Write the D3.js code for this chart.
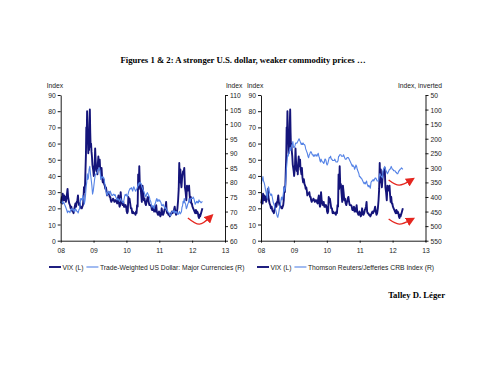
<!DOCTYPE html>
<html>
<head>
<meta charset="utf-8">
<script src="https://cdn.jsdelivr.net/npm/d3@7"></script>
<style>
  html, body { margin: 0; padding: 0; background: #fff; }
  svg { display: block; }
  .tick-label, .axis-title, .legend-text { font-family: "Liberation Sans", Arial, sans-serif; font-size: 8px; fill: #222; }
  .heading { font-family: "Liberation Serif", "Times New Roman", serif; font-weight: bold; font-size: 8.7px; fill: #000; }
</style>
</head>
<body>
<script>
// monthly buckets, Jan 2008 .. Apr 2012, values read roughly weekly off the picture
var vix = [
  [23, 25, 27, 23, 29, 25], [26, 28, 25, 27, 24], [26, 29, 32, 27, 25], [23, 22, 20, 21],
  [19, 18, 18, 17, 19], [21, 23, 21, 24], [25, 28, 24, 22, 23], [21, 21, 20, 20, 21],
  [22, 25, 33, 30, 35], [45, 53, 70, 64, 80, 68, 62], [54, 61, 56, 72, 81, 67, 58], [60, 55, 52, 47, 45, 43],
  [40, 43, 47, 57, 50, 45], [43, 46, 41, 48, 52, 46], [49, 50, 44, 43, 41, 45], [39, 36, 38, 35],
  [34, 32, 33, 31, 28], [29, 29, 30, 27], [27, 25, 24, 25, 25], [26, 25, 24, 25],
  [25, 24, 23, 26], [28, 23, 21, 22, 30], [25, 23, 22, 24], [21, 22, 21, 22, 21],
  [18, 17, 18, 27, 24], [26, 23, 20, 20], [17, 18, 17, 17], [17, 16, 18, 17, 22],
  [21, 41, 32, 46, 34], [35, 29, 24, 34], [30, 25, 26, 23], [22, 24, 26, 27],
  [24, 22, 22, 22], [21, 19, 19, 19, 21], [18, 20, 18, 22], [18, 17, 16, 16, 18],
  [17, 15, 16, 20], [17, 16, 17, 19], [20, 21, 24, 18, 17], [17, 16, 16, 15],
  [16, 17, 18, 17], [18, 19, 21, 18], [16, 17, 20, 25], [32, 48, 36, 44, 36],
  [33, 38, 41, 43, 42], [45, 33, 30, 25], [34, 31, 32, 34], [28, 24, 27, 23, 23],
  [21, 20, 19, 18], [17, 19, 17, 18], [17, 15, 14, 16, 15], [17, 20]
];

var dollar = [
  [73.5, 73.0, 73.6, 73.0, 72.8], [73.2, 72.5, 72.0, 71.4], [70.8, 70.2, 69.6, 70.2, 70.0], [70.1, 69.6, 70.5, 71.0],
  [70.6, 70.9, 70.5, 70.2, 70.8], [70.0, 71.0, 70.6, 70.1], [70.0, 69.5, 70.5, 71.0], [72.5, 74.5, 74.0, 74.5, 74.0],
  [75.6, 74.5, 72.5, 73.8], [76.0, 78.5, 80.0, 83.0, 81.0], [81.5, 84.5, 85.5, 83.0], [81.0, 79.0, 76.0, 77.0],
  [79.0, 81.0, 82.5, 83.0], [83.0, 83.5, 84.5, 84.5], [85.0, 84.0, 81.0, 81.5], [82.0, 81.5, 81.8, 81.0],
  [79.5, 78.5, 77.0, 76.5, 75.5], [76.0, 77.0, 76.5, 76.0], [77.0, 76.5, 76.0, 75.5, 75.5], [75.8, 76.0, 75.5, 75.8],
  [75.0, 74.5, 74.0, 74.5], [74.2, 73.8, 73.5, 74.2, 74.5], [73.8, 73.5, 73.2, 73.0], [74.0, 75.0, 75.8, 75.5, 76.0],
  [75.5, 75.0, 76.0, 77.0], [77.5, 78.0, 77.8, 78.2], [77.5, 77.0, 78.0, 78.5, 78.0], [77.5, 77.0, 77.5, 78.0],
  [78.5, 79.5, 79.0, 80.0, 79.5], [80.0, 79.5, 78.5, 78.0], [77.5, 77.0, 76.5, 76.0, 75.5], [75.0, 76.0, 76.5, 76.0],
  [75.5, 75.0, 74.0, 73.5], [72.5, 71.5, 72.0, 72.0, 71.5], [71.0, 72.5, 73.0, 74.0], [74.5, 73.5, 74.0, 74.0, 73.5],
  [74.0, 73.5, 73.0, 72.0], [72.0, 72.5, 72.0, 71.5], [71.0, 71.5, 71.0, 70.5, 70.5], [70.0, 69.8, 69.5, 68.8],
  [68.5, 69.5, 70.0, 70.0], [69.8, 70.5, 69.5, 70.0], [69.5, 70.0, 69.2, 69.0], [69.5, 70.0, 69.2, 69.5],
  [70.0, 71.5, 72.0, 73.5, 73.0], [74.5, 73.0, 72.5, 71.0], [71.5, 72.5, 73.0, 74.5], [73.5, 73.5, 74.5, 74.5, 74.5],
  [74.5, 75.0, 74.5, 73.5], [72.5, 73.0, 73.5, 73.0], [73.5, 73.0, 74.0, 73.5, 73.5], [73.0, 73.5]
];

var crb = [
  [355, 345, 340, 330, 345], [350, 360, 375, 385], [395, 405, 375, 365, 370], [385, 390, 395, 390],
  [400, 410, 420, 425, 430], [440, 445, 455, 465], [470, 460, 445, 430], [425, 410, 400, 410, 405],
  [390, 365, 380, 370], [330, 300, 280, 255, 260], [250, 240, 230, 240], [225, 220, 210, 230],
  [230, 225, 215, 215], [215, 210, 205, 200], [205, 210, 215, 220, 215], [220, 215, 220, 220],
  [225, 235, 240, 245, 250], [260, 265, 255, 250], [245, 245, 250, 255, 255], [260, 255, 260, 255],
  [255, 260, 255, 250], [260, 265, 275, 280, 270], [275, 280, 280, 285], [280, 270, 270, 275, 285],
  [290, 285, 275, 265], [265, 260, 270, 270], [275, 275, 275, 275, 270], [275, 280, 280, 280],
  [275, 260, 260, 255, 255], [255, 260, 260, 260], [255, 260, 265, 270, 270], [270, 265, 265, 265],
  [270, 275, 280, 285], [290, 295, 290, 295, 295], [305, 300, 290, 295], [305, 310, 315, 320, 330],
  [330, 335, 335, 340], [345, 350, 355, 350], [355, 350, 345, 355, 360], [365, 360, 365, 370],
  [350, 345, 345, 340], [345, 340, 335, 335], [340, 345, 345, 345], [330, 320, 325, 330],
  [330, 335, 310, 305, 300], [295, 305, 310, 315], [320, 315, 310, 305], [305, 300, 295, 300, 305],
  [305, 310, 310, 310], [315, 315, 320, 320], [315, 310, 310, 305, 305], [300, 305]
];

var yearTicks = [2008, 2009, 2010, 2011, 2012, 2013];
var leftTicks = [0, 10, 20, 30, 40, 50, 60, 70, 80, 90];
var dollarTicks = [60, 65, 70, 75, 80, 85, 90, 95, 100, 105, 110];
var crbTicks = [50, 100, 150, 200, 250, 300, 350, 400, 450, 500, 550];

// red "turning up" arrows, in (year, VIX) units
var arrowsLeft = [ [[2011.87, 14], [2012.22, 10.2], [2012.55, 14.6]] ];
var arrowsRight = [
  [[2011.88, 37.5], [2012.2, 34.3], [2012.56, 37.4]],
  [[2011.88, 13.4], [2012.2, 10.3], [2012.56, 12.9]]
];

var titleText = 'Figures 1 & 2: A stronger U.S. dollar, weaker commodity prices \u2026';
var sourceText = 'Talley D. L\u00e9ger';

var DARK = '#14147a', LIGHT = '#5583e6', RED = '#e5261f';
var NARROW = 0.84;  // the source uses a condensed sans

function flatten(monthly) {
  var pts = [];
  monthly.forEach(function(vals, m) {
    vals.forEach(function(v, j) {
      pts.push({ t: 2008 + (m + (j + 0.5) / vals.length) / 12, v: v });
    });
  });
  return pts;
}

function condense(node) {
  var w = node.getComputedTextLength() * NARROW;
  d3.select(node).attr('textLength', w).attr('lengthAdjust', 'spacingAndGlyphs');
  return w;
}

var svg = d3.select('body').append('svg').attr('width', 490).attr('height', 378);
svg.append('rect').attr('width', 490).attr('height', 378).attr('fill', '#fff');

svg.append('text').attr('class', 'heading')
   .attr('x', 243).attr('y', 63).attr('text-anchor', 'middle').text(titleText);
svg.append('text').attr('class', 'heading')
   .attr('x', 445).attr('y', 298).attr('text-anchor', 'end').text(sourceText);

svg.append('defs').append('marker')
   .attr('id', 'redhead').attr('viewBox', '0 0 10 10')
   .attr('refX', 5).attr('refY', 5)
   .attr('markerWidth', 7).attr('markerHeight', 7)
   .attr('orient', 'auto')
   .append('path').attr('d', 'M0,0 L10,5 L0,10 z').attr('fill', RED);

function drawPanel(cfg) {
  var g = svg.append('g');
  var x = d3.scaleLinear().domain([2008, 2013]).range([cfg.x0, cfg.x1]);
  var yL = d3.scaleLinear().domain([0, 90]).range([240.7, 95]);
  var yR = d3.scaleLinear().domain(cfg.rightDomain).range([240.7, 95]);

  // series
  var lineL = d3.line().x(function(d) { return x(d.t); }).y(function(d) { return yL(d.v); });
  var lineR = d3.line().x(function(d) { return x(d.t); }).y(function(d) { return yR(d.v); });
  g.append('path').datum(flatten(vix)).attr('d', lineL)
   .attr('fill', 'none').attr('stroke', DARK).attr('stroke-width', 1.9).attr('stroke-linejoin', 'round');
  g.append('path').datum(flatten(cfg.rightData)).attr('d', lineR)
   .attr('fill', 'none').attr('stroke', LIGHT).attr('stroke-width', 1.1).attr('stroke-linejoin', 'round');

  // axes
  var axL = d3.axisLeft(yL).tickValues(leftTicks).tickSize(3).tickPadding(2);
  var axR = d3.axisRight(yR).tickValues(cfg.rightTicks).tickSize(3).tickPadding(2);
  var axB = d3.axisBottom(x).tickValues(yearTicks).tickSize(2).tickPadding(5)
              .tickFormat(function(d) { return d3.format('02d')(d % 100); });
  [ g.append('g').attr('transform', 'translate(' + cfg.x0 + ',0)').call(axL),
    g.append('g').attr('transform', 'translate(' + cfg.x1 + ',0)').call(axR),
    g.append('g').attr('transform', 'translate(0,240.7)').call(axB) ].forEach(function(a) {
      a.attr('font-size', null).attr('font-family', null);
      a.selectAll('path, line').attr('stroke', '#000').attr('stroke-width', 0.9);
      a.selectAll('text').attr('class', 'tick-label').attr('fill', null);
  });
  g.selectAll('.domain').each(function() {
    // plain axis line, no end caps
    var el = d3.select(this), d = el.attr('d');
    el.attr('d', d.replace(/M([\-\d.]+),([\-\d.]+)H([\-\d.]+)V([\-\d.]+)H([\-\d.]+)/, 'M$3,$2V$4')
                  .replace(/M([\-\d.]+),([\-\d.]+)V([\-\d.]+)H([\-\d.]+)V([\-\d.]+)/, 'M$1,$3H$4'));
  });

  g.append('text').attr('class', 'axis-title').attr('x', cfg.x0 - 14).attr('y', 88).text('Index');
  g.append('text').attr('class', 'axis-title').attr('x', cfg.rightTitleX).attr('y', 88)
   .attr('text-anchor', cfg.rightTitleAnchor).text(cfg.rightTitle);

  // arrows
  var curve = d3.line().x(function(d) { return x(d[0]); }).y(function(d) { return yL(d[1]); }).curve(d3.curveNatural);
  cfg.arrows.forEach(function(a) {
    g.append('path').attr('d', curve(a)).attr('fill', 'none')
     .attr('stroke', RED).attr('stroke-width', 1.3).attr('marker-end', 'url(#redhead)');
  });

  g.selectAll('.tick-label, .axis-title').each(function() { condense(this); });

  // legend
  var lx = cfg.legendX, ly = 267;
  var items = [ { label: 'VIX (L)', color: DARK, w: 1.9 }, { label: cfg.legendLabel, color: LIGHT, w: 1.1 } ];
  items.forEach(function(it) {
    g.append('line').attr('x1', lx).attr('x2', lx + 12).attr('y1', ly).attr('y2', ly)
     .attr('stroke', it.color).attr('stroke-width', it.w);
    var t = g.append('text').attr('class', 'legend-text').attr('x', lx + 13.5).attr('y', ly + 3).text(it.label);
    lx += 13.5 + condense(t.node()) + 3;
  });
}

drawPanel({
  x0: 60.7, x1: 225,
  rightDomain: [60, 110], rightTicks: dollarTicks, rightData: dollar,
  rightTitle: 'Index', rightTitleX: 226, rightTitleAnchor: 'start',
  arrows: arrowsLeft,
  legendX: 49, legendLabel: 'Trade-Weighted US Dollar: Major Currencies (R)'
});

drawPanel({
  x0: 261, x1: 425.5,
  rightDomain: [550, 50], rightTicks: crbTicks, rightData: crb,
  rightTitle: 'Index, inverted', rightTitleX: 442, rightTitleAnchor: 'end',
  arrows: arrowsRight,
  legendX: 257, legendLabel: 'Thomson Reuters/Jefferies CRB Index (R)'
});
</script>
</body>
</html>
